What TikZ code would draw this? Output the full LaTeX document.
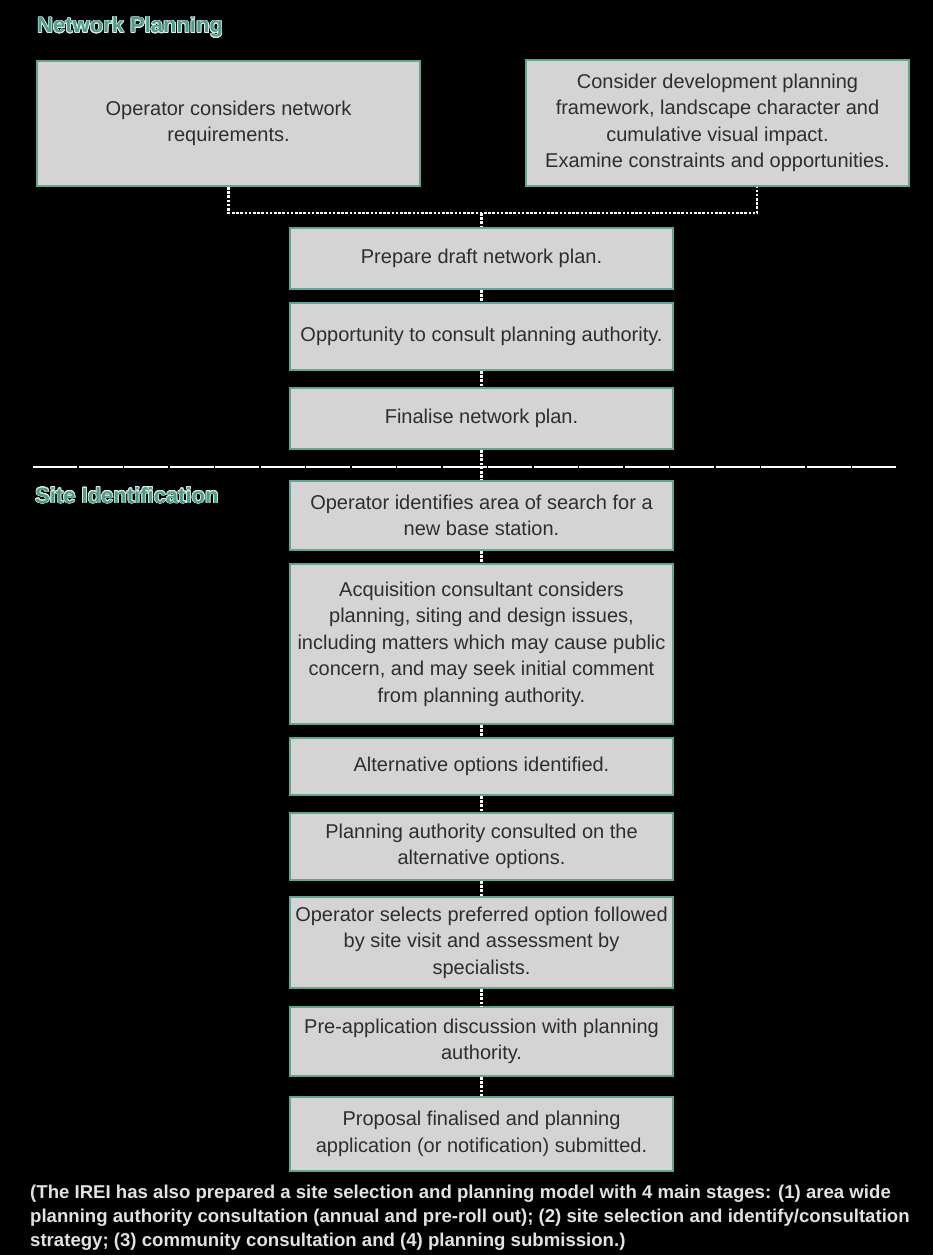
\documentclass[tikz,border=0pt]{standalone}
\usepackage{fontspec}
\setmainfont{Liberation Sans}
\usepackage[copies]{contour}
\contourlength{0.7pt}
\contournumber{16}
\definecolor{bg}{HTML}{000000}
\definecolor{boxfill}{HTML}{D4D4D4}
\definecolor{boxedge}{HTML}{62A597}
\definecolor{boxtext}{HTML}{2E2E2E}
\definecolor{headteal}{HTML}{4F9C8A}
\definecolor{headedge}{HTML}{D8EFE8}
\definecolor{notetext}{HTML}{E2E2E2}
\tikzset{
  stepbox/.style={draw=boxedge, line width=2pt, fill=boxfill, text=boxtext,
    align=center, inner sep=2pt, minimum width=383pt,
    font=\fontsize{20}{26.5}\selectfont},
  link/.style={draw=white, line width=2.2pt, dash pattern=on 2.6pt off 1.6pt},
  sepline/.style={draw=white, line width=1.4pt, dash pattern=on 44pt off 1.5pt},
  heading/.style={anchor=base west, inner sep=0pt, text=headteal,
    font=\fontsize{22}{26}\selectfont\bfseries},
  note/.style={anchor=north west, inner sep=0pt, align=left, text=notetext,
    font=\fontsize{18.6}{24}\selectfont\bfseries}
}
\begin{document}
\begin{tikzpicture}[x=1pt, y=-1pt]
\fill[bg] (0,0) rectangle (933,1255);
\useasboundingbox (0,0) rectangle (933,1255);

% headings
\node[heading] (hnet) at (37,33) {\contour{headedge}{Network Planning}};
\node[heading] (hsite) at (35,503) {\contour{headedge}{Site Identification}};

% network planning boxes
\node[stepbox, minimum height=125pt] (b1) at (228.5,123.5)
  {Operator considers network\\requirements.};
\node[stepbox, minimum height=126pt] (b2) at (717.5,123)
  {Consider development planning\\framework, landscape character and\\cumulative visual impact.\\Examine constraints and opportunities.};
\node[stepbox, minimum height=61pt] (prep) at (481.5,258.5) {Prepare draft network plan.};
\node[stepbox, minimum height=67pt] (opp) at (481.5,336.5) {Opportunity to consult planning authority.};
\node[stepbox, minimum height=61pt] (fin) at (481.5,418.5) {Finalise network plan.};

% site identification boxes
\node[stepbox, minimum height=69pt] (opid) at (481.5,515.5)
  {Operator identifies area of search for a\\new base station.};
\node[stepbox, minimum height=160pt] (acq) at (481.5,644)
  {Acquisition consultant considers\\planning, siting and design issues,\\including matters which may cause public\\concern, and may seek initial comment\\from planning authority.};
\node[stepbox, minimum height=57pt] (alt) at (481.5,766.5) {Alternative options identified.};
\node[stepbox, minimum height=67pt] (pla) at (481.5,846.5)
  {Planning authority consulted on the\\alternative options.};
\node[stepbox, minimum height=91pt] (sel) at (481.5,942.5)
  {Operator selects preferred option followed\\by site visit and assessment by\\specialists.};
\node[stepbox, minimum height=69pt] (pre) at (481.5,1041.5)
  {Pre-application discussion with planning\\authority.};
\node[stepbox, minimum height=74pt] (pro) at (481.5,1134)
  {Proposal finalised and planning\\application (or notification) submitted.};

% connectors
\coordinate (hr) at (757,213);
\draw[link] (b1.south) |- (hr) -- (hr |- b2.south);
\draw[link] (prep.north |- hr) -- (prep.north);
\draw[link] (prep.south) -- (opp.north);
\draw[link] (opp.south) -- (fin.north);
\coordinate (sepL) at (33,467);
\coordinate (sepR) at (897,467);
\draw[sepline] (sepL) -- (sepR);
\draw[link] (fin.south) -- (opid.north);
\draw[link] (opid.south) -- (acq.north);
\draw[link] (acq.south) -- (alt.north);
\draw[link] (alt.south) -- (pla.north);
\draw[link] (pla.south) -- (sel.north);
\draw[link] (sel.south) -- (pre.north);
\draw[link] (pre.south) -- (pro.north);

% footnote
\node[note] (fn) at (30,1185)
  {(The IREI has also prepared a site selection and planning model with 4 main stages: (1) area wide\\
   planning authority consultation (annual and pre-roll out); (2) site selection and identify/consultation\\
   strategy; (3) community consultation and (4) planning submission.)};
\end{tikzpicture}
\end{document}
